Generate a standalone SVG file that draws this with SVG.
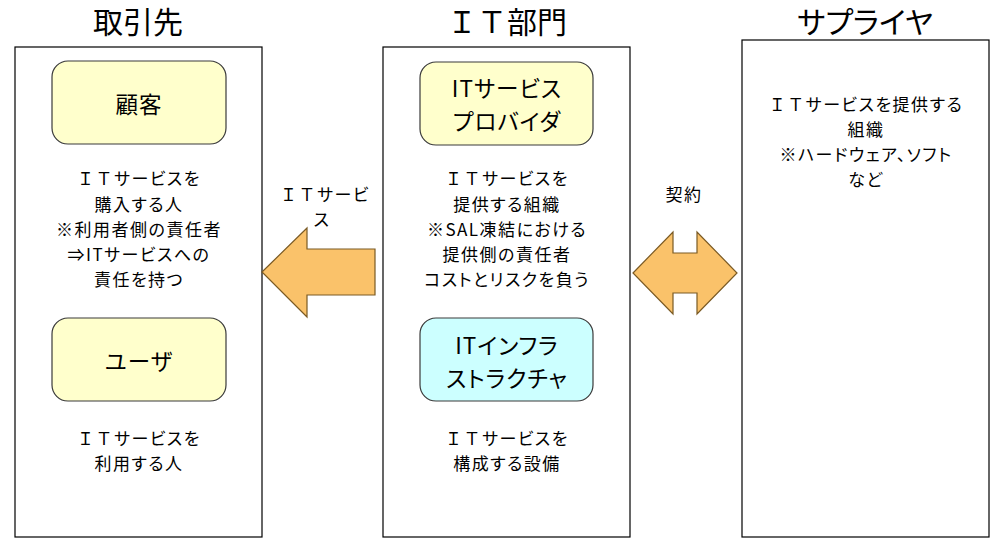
<svg xmlns="http://www.w3.org/2000/svg" width="1001" height="546" viewBox="0 0 1001 546">
  <style>
    text { font-family: "Noto Sans CJK JP", "Noto Sans", sans-serif; fill: #000; text-anchor: middle; dominant-baseline: central; font-feature-settings: "palt"; }
    .title { font-size: 30px; }
    .body { font-size: 17px; letter-spacing: 1.5px; }
    .nodetext { font-size: 22.5px; letter-spacing: 1px; }
    .panel { fill: #fff; stroke: #000; stroke-width: 1.2; }
    .role { stroke: #3a3a3a; stroke-width: 1.2; }
    .yellow { fill: #FFFFCC; }
    .cyan { fill: #CCFFFF; }
    .arrow { fill: #FAC26A; stroke: #7A5A24; stroke-width: 1.2; stroke-linejoin: miter; }
    .fw { font-feature-settings: normal; }
  </style>
  <rect width="1001" height="546" fill="#fff"/>

  <g id="torihikisaki">
    <text class="title" x="138" y="20">取引先</text>
    <rect class="panel" x="15" y="47" width="247" height="490"/>
  </g>
  <g id="kokyaku">
    <rect class="role yellow" x="52" y="61" width="174" height="83" rx="16" ry="16"/>
    <text class="nodetext" x="139" y="103">顧客</text>
  </g>
  <g id="kokyaku-desc">
    <text class="body" x="139" y="177"><tspan class="fw">ＩＴ</tspan>サービスを</text>
    <text class="body" x="139" y="203">購入する人</text>
    <text class="body" x="139" y="228">※利用者側の責任者</text>
    <text class="body" x="139" y="253">⇒ITサービスへの</text>
    <text class="body" x="139" y="278">責任を持つ</text>
  </g>
  <g id="user">
    <rect class="role yellow" x="52" y="318" width="174" height="83" rx="16" ry="16"/>
    <text class="nodetext" x="139" y="360">ユーザ</text>
  </g>
  <g id="user-desc">
    <text class="body" x="139" y="437"><tspan class="fw">ＩＴ</tspan>サービスを</text>
    <text class="body" x="139" y="462">利用する人</text>
  </g>

  <g id="it-bumon">
    <text class="title" x="507" y="20"><tspan class="fw">ＩＴ</tspan>部門</text>
    <rect class="panel" x="383" y="47" width="247" height="490"/>
  </g>
  <g id="provider">
    <rect class="role yellow" x="420" y="62" width="173" height="83" rx="16" ry="16"/>
    <text class="nodetext" x="507" y="87">ITサービス</text>
    <text class="nodetext" x="507" y="120">プロバイダ</text>
  </g>
  <g id="provider-desc">
    <text class="body" x="507" y="177"><tspan class="fw">ＩＴ</tspan>サービスを</text>
    <text class="body" x="507" y="203">提供する組織</text>
    <text class="body" x="507" y="228">※SAL凍結における</text>
    <text class="body" x="507" y="253">提供側の責任者</text>
    <text class="body" x="507" y="278">コストとリスクを負う</text>
  </g>
  <g id="infra">
    <rect class="role cyan" x="420" y="318" width="173" height="83" rx="16" ry="16"/>
    <text class="nodetext" x="507" y="344">ITインフラ</text>
    <text class="nodetext" x="507" y="377">ストラクチャ</text>
  </g>
  <g id="infra-desc">
    <text class="body" x="507" y="437"><tspan class="fw">ＩＴ</tspan>サービスを</text>
    <text class="body" x="507" y="462">構成する設備</text>
  </g>

  <g id="supplier">
    <text class="title" x="865" y="20">サプライヤ</text>
    <rect class="panel" x="742" y="40" width="247" height="497"/>
    <text class="body" x="866" y="103"><tspan class="fw">ＩＴ</tspan>サービスを提供する</text>
    <text class="body" x="866" y="128">組織</text>
    <text class="body" x="866" y="153">※ハードウェア、ソフト</text>
    <text class="body" x="866" y="178">など</text>
  </g>

  <g id="connectors">
    <polygon class="arrow" points="262,272 307,228 307,249 375,249 375,295 307,295 307,317"/>
    <text class="body" x="325" y="193"><tspan class="fw">ＩＴ</tspan>サービ</text>
    <text class="body" x="322" y="218">ス</text>
    <polygon class="arrow" points="633,273 673,232 673,253 697,253 697,232 737,273 697,314 697,293 673,293 673,314"/>
    <text class="body" x="684" y="193">契約</text>
  </g>
</svg>
